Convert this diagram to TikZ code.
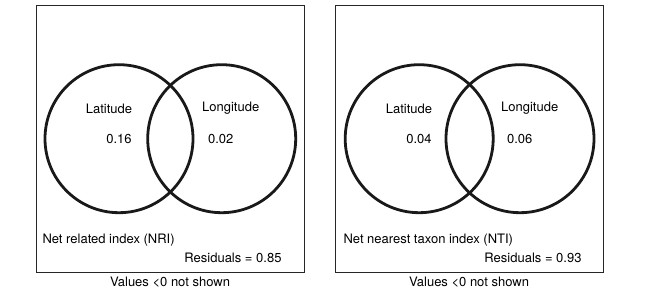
\documentclass[tikz,border=0pt]{standalone}
\usepackage{fontspec}
\setmainfont{TeX Gyre Heros}
\begin{document}
\begin{tikzpicture}[x=1pt,y=-1pt,
  panel/.style={draw=black!85,line width=0.9pt},
  venn/.style={draw=black!90,line width=2.8pt},
  lbl/.style={font=\fontsize{13}{15}\selectfont,inner sep=0pt}]
\useasboundingbox (0,0) rectangle (655,296);
% left panel
\node[panel,minimum width=267.5pt,minimum height=267.5pt,inner sep=0pt] (boxA) at (170.3,138.8) {};
\node[venn,circle,minimum size=148pt,inner sep=0pt] (latA) at (119,138.7) {};
\node[venn,circle,minimum size=148pt,inner sep=0pt] (lonA) at (221.7,138.7) {};
\node[lbl] (tLatA) at (109,109) {Latitude};
\node[lbl] (vLatA) at (119,139) {0.16};
\node[lbl] (tLonA) at (230.7,108) {Longitude};
\node[lbl] (vLonA) at (220.7,139) {0.02};
\node[lbl,anchor=west] (nameA) at (42.3,240) {Net related index (NRI)};
\node[lbl,anchor=east] (resA) at (281.7,258.3) {Residuals = 0.85};
\node[lbl] (noteA) at (170,282) {Values <0 not shown};
% right panel
\node[panel,minimum width=267.6pt,minimum height=267.5pt,inner sep=0pt] (boxB) at (469.5,138.8) {};
\node[venn,circle,minimum size=148pt,inner sep=0pt] (latB) at (419.2,138.7) {};
\node[venn,circle,minimum size=148pt,inner sep=0pt] (lonB) at (520,138.7) {};
\node[lbl] (tLatB) at (409,109) {Latitude};
\node[lbl] (vLatB) at (419,139) {0.04};
\node[lbl] (tLonB) at (529.7,108) {Longitude};
\node[lbl] (vLonB) at (519.7,139) {0.06};
\node[lbl,anchor=west] (nameB) at (343.3,240) {Net nearest taxon index (NTI)};
\node[lbl,anchor=east] (resB) at (581.7,258.3) {Residuals = 0.93};
\node[lbl] (noteB) at (469,282) {Values <0 not shown};
\end{tikzpicture}
\end{document}
